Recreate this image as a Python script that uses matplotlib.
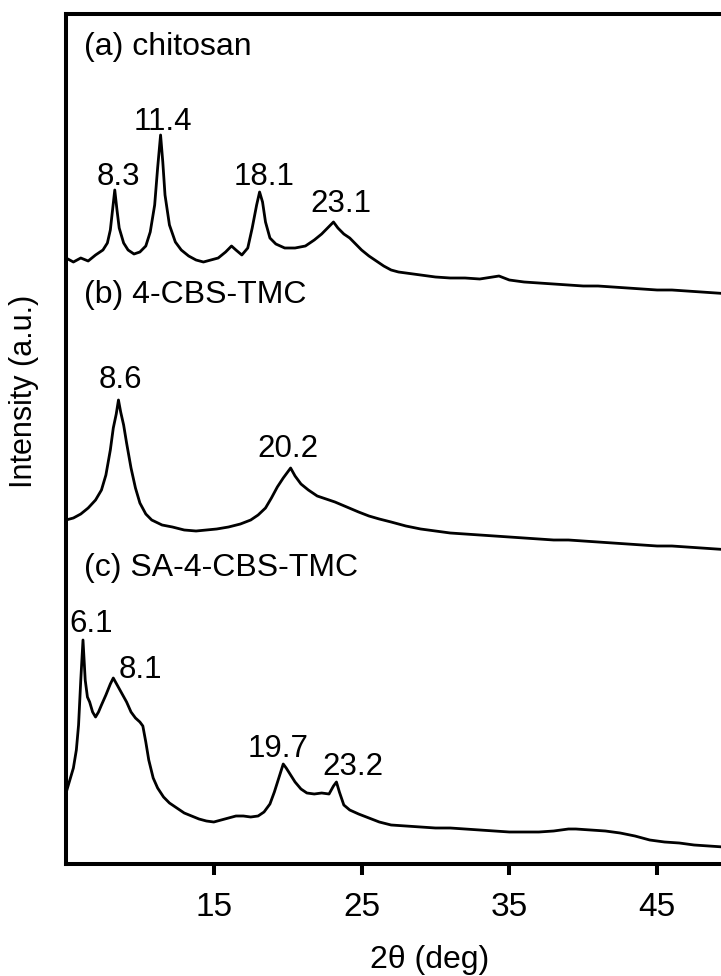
import matplotlib
matplotlib.use("Agg")
import matplotlib.pyplot as plt
import numpy as np

plt.rcParams['font.family'] = ['Liberation Sans', 'DejaVu Sans']

# 2theta / intensity (a.u.)
tt_a = [5.0, 5.5, 6.0, 6.5, 7.0, 7.5, 7.8, 8.0, 8.15, 8.3, 8.45, 8.6, 8.9, 9.2, 9.6,
        10.0, 10.4, 10.7, 11.0, 11.2, 11.4, 11.55, 11.7, 12.0, 12.4, 12.8, 13.3, 13.8,
        14.3, 14.8, 15.3, 15.8, 16.2, 16.5, 16.9, 17.3, 17.6, 17.9, 18.1, 18.3, 18.5,
        18.8, 19.2, 19.8, 20.5, 21.2, 21.8, 22.3, 22.7, 23.1, 23.4, 23.8, 24.2, 24.6,
        25.0, 25.5, 26.0, 26.5, 27.0, 27.5, 28.0, 29.0, 30.0, 31.0, 32.0, 33.0, 34.3,
        35.0, 36.0, 37.0, 38.0, 39.0, 40.0, 41.0, 42.0, 43.0, 44.0, 45.0, 46.0, 47.0,
        48.0, 49.0, 50.0]
int_a = [46, 42, 46, 43, 49, 54, 61, 74, 94, 114, 94, 76, 61, 54, 50,
         52, 58, 72, 99, 136, 169, 142, 109, 79, 62, 54, 48, 44,
         42, 44, 46, 52, 58, 54, 49, 56, 76, 99, 112, 102, 82,
         66, 60, 56, 56, 58, 64, 70, 76, 82, 76, 70, 66, 60,
         54, 48, 43, 38, 34, 32, 31, 29, 27, 26, 26, 25, 28,
         24, 22, 21, 20, 19, 18, 18, 17, 16, 15, 14, 14, 13,
         12, 11, 10]

tt_b = [5.0, 5.5, 6.0, 6.5, 7.0, 7.4, 7.7, 8.0, 8.2, 8.4, 8.55, 8.7, 8.9, 9.1, 9.4,
        9.7, 10.0, 10.4, 10.8, 11.5, 12.2, 13.0, 13.8, 14.5, 15.2, 16.0, 16.8, 17.5,
        18.0, 18.5, 18.9, 19.3, 19.7, 20.0, 20.2, 20.5, 20.9, 21.4, 22.0, 22.6, 23.2,
        24.0, 24.8, 25.5, 26.2, 27.0, 28.0, 29.0, 30.0, 31.0, 32.0, 33.0, 34.0, 35.0,
        36.0, 37.0, 38.0, 39.0, 40.0, 41.0, 42.0, 43.0, 44.0, 45.0, 46.0, 47.0, 48.0,
        49.0, 50.0]
int_b = [44, 46, 50, 56, 64, 74, 89, 114, 136, 150, 164, 152, 139, 121, 96,
         76, 61, 50, 44, 39, 37, 34, 33, 34, 35, 37, 40, 44,
         49, 56, 66, 77, 86, 92, 96, 88, 80, 74, 68, 65, 62,
         57, 52, 48, 45, 42, 38, 35, 33, 31, 30, 29, 28, 27,
         26, 25, 24, 24, 23, 22, 21, 20, 19, 18, 18, 17, 16,
         15, 14]

tt_c = [5.0, 5.3, 5.5, 5.7, 5.85, 6.0, 6.15, 6.3, 6.45, 6.6, 6.8, 7.0, 7.2, 7.4, 7.7,
        8.0, 8.2, 8.5, 8.8, 9.1, 9.4, 9.7, 10.0, 10.2, 10.4, 10.6, 10.9, 11.2, 11.6,
        12.0, 12.5, 13.0, 13.5, 14.0, 14.5, 15.0, 15.5, 16.0, 16.5, 17.0, 17.5, 18.0,
        18.4, 18.8, 19.1, 19.4, 19.7, 19.9, 20.2, 20.5, 20.9, 21.3, 21.8, 22.3, 22.8,
        23.1, 23.3, 23.5, 23.8, 24.2, 24.8, 25.5, 26.2, 27.0, 28.0, 29.0, 30.0, 31.0,
        32.0, 33.0, 34.0, 35.0, 36.0, 37.0, 38.0, 39.0, 39.5, 40.5, 41.5, 42.5, 43.5,
        44.5, 45.5, 46.5, 47.5, 48.5, 49.5, 50.0]
int_c = [71, 86, 96, 114, 139, 184, 224, 184, 167, 162, 152, 147, 152, 159, 169,
         180, 186, 178, 170, 162, 152, 146, 142, 138, 122, 104, 86, 76, 67,
         61, 56, 51, 48, 45, 43, 42, 44, 46, 48, 48, 47, 48,
         52, 60, 72, 86, 100, 96, 89, 82, 75, 71, 70, 71, 70,
         78, 82, 72, 59, 54, 50, 46, 42, 39, 38, 37, 36, 36,
         35, 34, 33, 32, 32, 32, 33, 35, 35, 34, 33, 31, 28,
         24, 22, 21, 19, 18, 17, 16]

names = ["(a) chitosan", "(b) 4-CBS-TMC", "(c) SA-4-CBS-TMC"]
offsets = [560, 300, 0]

# peak labels: text, x, y (baseline)
peak_txt = ["8.3", "11.4", "18.1", "23.1", "8.6", "20.2", "6.1", "8.1", "19.7", "23.2"]
peak_x = [8.52, 11.57, 18.4, 23.6, 8.66, 20.03, 6.69, 10.01, 19.35, 24.43]
peak_y = [679, 734, 679, 652, 476, 407, 232, 186, 107, 89]

fig = plt.figure(figsize=(7.21, 9.76), dpi=100)
ax = fig.add_axes([66 / 721, 112 / 976, 665 / 721, 850 / 976])

for tt, inten, off in zip([tt_a, tt_b, tt_c], [int_a, int_b, int_c], offsets):
    ax.plot(tt, np.array(inten) + off, color="black", lw=2.0)

name_y = [809, 561, 288]
for n, y in zip(names, name_y):
    ax.text(6.25, y, n, fontsize=23, ha="left", va="baseline")

for t, x, y in zip(peak_txt, peak_x, peak_y):
    ax.text(x, y, t, fontsize=22.5, ha="center", va="baseline")

ax.set_xlim(5, 50)
ax.set_ylim(0, 850)
ax.set_xticks([15, 25, 35, 45])
ax.set_yticks([])
ax.tick_params(axis="x", direction="out", length=8, width=2.9, labelsize=24, pad=12)
for s in ["left", "top", "bottom"]:
    ax.spines[s].set_linewidth(2.9)
ax.spines["right"].set_visible(False)

ax.set_xlabel("2θ (deg)", fontsize=23)
ax.xaxis.set_label_coords(0.547, -0.095)
ax.set_ylabel("Intensity (a.u.)", fontsize=22)
ax.yaxis.set_label_coords(-0.04, 0.556)

fig.savefig("out.png", dpi=100)
